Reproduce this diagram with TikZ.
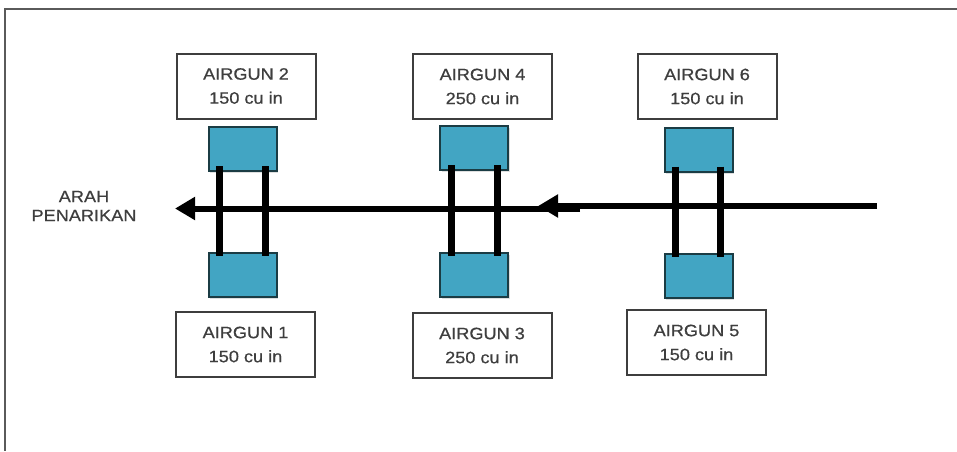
\documentclass[tikz,border=0pt]{standalone}
\usepackage{fontspec}
\setmainfont{Liberation Sans}[FakeStretch=1.1, FakeBold=0.6]
\usetikzlibrary{arrows.meta,shadows}
\definecolor{gunblue}{HTML}{42A5C3}
\definecolor{gunedge}{HTML}{1B3C44}
\definecolor{labelgray}{HTML}{3E3E3E}
\definecolor{framegray}{HTML}{5A5A5A}
\tikzset{
  labelbox/.style={draw=labelgray, line width=2pt, fill=white, align=center,
    text=labelgray, font=\fontsize{16.5}{24}\selectfont, inner sep=0pt,
    minimum width=139pt, minimum height=65pt},
  gunbox/.style={draw=gunedge, line width=2pt, fill=gunblue, inner sep=0pt,
    minimum width=68pt, minimum height=44pt,
    drop shadow={shadow xshift=1.5pt, shadow yshift=-2pt, opacity=0.25}},
  bar/.style={line width=7pt, black},
  tow/.style={line width=6pt, black, -{Triangle[length=20pt,width=22pt]}},
}
\begin{document}
\begin{tikzpicture}[x=1pt,y=-1pt]
\useasboundingbox (0,0) rectangle (957,451);
% open frame: top and left edges only
\draw[framegray, line width=2pt] (957,9) -- (5,9) -- (5,451);

% airgun labels
\node[labelbox] (l2) at (246,86) {AIRGUN 2\\150 cu in};
\node[labelbox] (l4) at (482.5,86.5) {AIRGUN 4\\250 cu in};
\node[labelbox] (l6) at (707,86.5) {AIRGUN 6\\150 cu in};
\node[labelbox] (l1) at (245.5,344.5) {AIRGUN 1\\150 cu in};
\node[labelbox] (l3) at (482,345.5) {AIRGUN 3\\250 cu in};
\node[labelbox] (l5) at (696.5,342.5) {AIRGUN 5\\150 cu in};

% towing direction label
\node[text=labelgray, align=center, font=\fontsize{16.5}{19}\selectfont] (dir) at (84,206) {ARAH\\PENARIKAN};

% tow line with two arrow heads
\coordinate (tail) at (877,206);
\coordinate (midtip) at (538,206);
\coordinate (midstart) at (580,208.5);
\coordinate (tip) at (175,208.5);
\draw[tow] (tail) -- (midtip);
\draw[tow] (midstart) -- (tip);

% airgun floats
\node[gunbox] (b2) at (242.5,149) {};
\node[gunbox] (b1) at (242.5,274.5) {};
\node[gunbox] (b4) at (474,148) {};
\node[gunbox] (b3) at (474,275) {};
\node[gunbox] (b6) at (698.5,149.5) {};
\node[gunbox] (b5) at (698.5,275.5) {};

% rigid links between paired floats
\foreach \t/\b/\l/\r in {b2/b1/-23.5/22.5, b4/b3/-23/23, b6/b5/-23/22}{
  \draw[bar] ([xshift=\l pt,yshift=6pt]\t.south) -- ([xshift=\l pt,yshift=-4pt]\b.north);
  \draw[bar] ([xshift=\r pt,yshift=6pt]\t.south) -- ([xshift=\r pt,yshift=-4pt]\b.north);
}
\end{tikzpicture}
\end{document}
